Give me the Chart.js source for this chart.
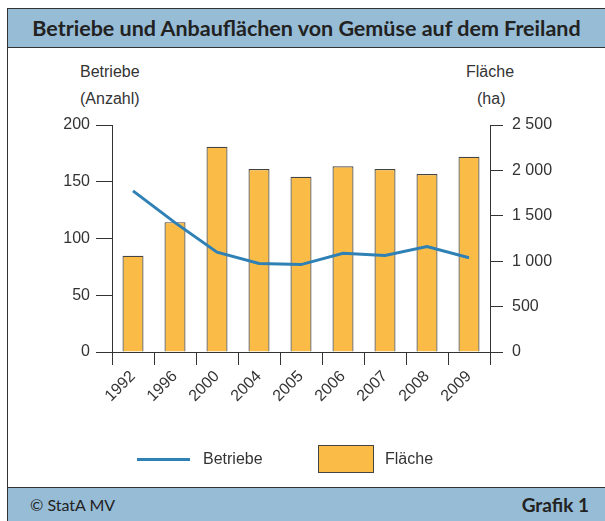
<!DOCTYPE html>
<html>
<head>
<meta charset="utf-8">
<script src="https://cdn.jsdelivr.net/npm/chart.js@4"></script>
<style>
  body { margin: 0; background: #fff; font-family: "Liberation Sans", Arial, sans-serif; }
  #frame { position: absolute; left: 7px; top: 8px; width: 610px; height: 520px; border-left: 1px solid #333; border-top: 1px solid #333; }
  #title { position: absolute; left: 8px; top: 9px; width: 597px; height: 38px; background: #97bcd6; border-bottom: 1px solid #333;
           font-family: "Lato", sans-serif; font-weight: bold; font-size: 21.5px; color: #222; text-align: center; line-height: 38px; }
  #footer { position: absolute; left: 8px; top: 487px; width: 597px; height: 34px; background: #97bcd6; border-top: 1px solid #333;
            font-family: "Lato", sans-serif; font-size: 18px; color: #222; line-height: 34px; }
  #footer .l { position: absolute; left: 22px; font-size: 16px; }
  #footer .r { position: absolute; right: 16px; font-weight: bold; font-size: 19px; }
  .lbl { position: absolute; font-size: 16px; color: #333; line-height: 18px; }
  #wrap { position: absolute; left: 0; top: 47px; width: 605px; height: 440px; }
  .swatch { position: absolute; }
</style>
</head>
<body>
<div id="frame"></div>
<div id="title">Betriebe und Anbauflächen von Gemüse auf dem Freiland</div>
<div class="lbl" style="left:80px; top:63px;">Betriebe</div>
<div class="lbl" style="left:80px; top:90px;">(Anzahl)</div>
<div class="lbl" style="left:466px; top:63px;">Fläche</div>
<div class="lbl" style="left:477px; top:90px;">(ha)</div>
<div id="wrap"><canvas id="chart"></canvas></div>
<div class="swatch" style="left:137px; top:458px; width:53px; height:3px; background:#2e80b5;"></div>
<div class="lbl" style="left:203px; top:450px;">Betriebe</div>
<div class="swatch" style="left:318px; top:445px; width:54px; height:26px; background:#fbbc47; border:1px solid #444;"></div>
<div class="lbl" style="left:385px; top:450px;">Fläche</div>
<div id="footer"><span class="l">© StatA MV</span><span class="r">Grafik 1</span></div>
<script>
const years = ['1992', '1996', '2000', '2004', '2005', '2006', '2007', '2008', '2009'];
const betriebe = [142, 114, 88, 78, 77, 87, 85, 93, 83];
const flaeche = [1060, 1430, 2260, 2015, 1930, 2045, 2015, 1960, 2150];
const leftTicks = [0, 50, 100, 150, 200];
const rightTicks = [0, 500, 1000, 1500, 2000, 2500];

const tickFont = { family: '"Liberation Sans", Arial, sans-serif', size: 16 };
const fmt = v => String(v).replace(/\B(?=(\d{3})+(?!\d))/g, ' ');

new Chart(document.getElementById('chart'), {
  type: 'bar',
  data: {
    labels: years,
    datasets: [{
      type: 'line',
      label: 'Betriebe',
      data: betriebe,
      yAxisID: 'y',
      borderColor: '#2e80b5',
      borderWidth: 3,
      pointRadius: 0,
      tension: 0,
      order: 0
    }, {
      label: 'Fläche',
      data: flaeche,
      yAxisID: 'y2',
      backgroundColor: '#fbbc47',
      borderColor: '#444',
      borderWidth: 1.2,
      borderSkipped: 'bottom',
      categoryPercentage: 1,
      barPercentage: 0.5,
      order: 1
    }]
  },
  options: {
    responsive: true,
    maintainAspectRatio: false,
    animation: false,
    layout: { padding: { left: 0, right: 0, top: 78, bottom: 0 } },
    plugins: { legend: { display: false }, tooltip: { enabled: false } },
    scales: {
      x: {
        offset: true,
        grid: { drawOnChartArea: false, offset: true, tickLength: 13, color: '#333' },
        border: { color: '#333' },
        ticks: { color: '#333', font: tickFont, minRotation: 45, maxRotation: 45, padding: 2 },
        afterFit: s => { s.height = 135; }
      },
      y: {
        position: 'left',
        min: 0, max: 200,
        afterBuildTicks: s => { s.ticks = leftTicks.map(v => ({ value: v })); },
        grid: { drawOnChartArea: false, tickLength: 16, color: '#333' },
        border: { color: '#333' },
        ticks: { color: '#333', font: tickFont, padding: 6 },
        afterFit: s => { s.width = 112; }
      },
      y2: {
        position: 'right',
        min: 0, max: 2500,
        afterBuildTicks: s => { s.ticks = rightTicks.map(v => ({ value: v })); },
        grid: { drawOnChartArea: false, tickLength: 13, color: '#333' },
        border: { color: '#333' },
        ticks: { color: '#333', font: tickFont, padding: 9, callback: v => fmt(v) },
        afterFit: s => { s.width = 115; }
      }
    }
  }
});
</script>
</body>
</html>
